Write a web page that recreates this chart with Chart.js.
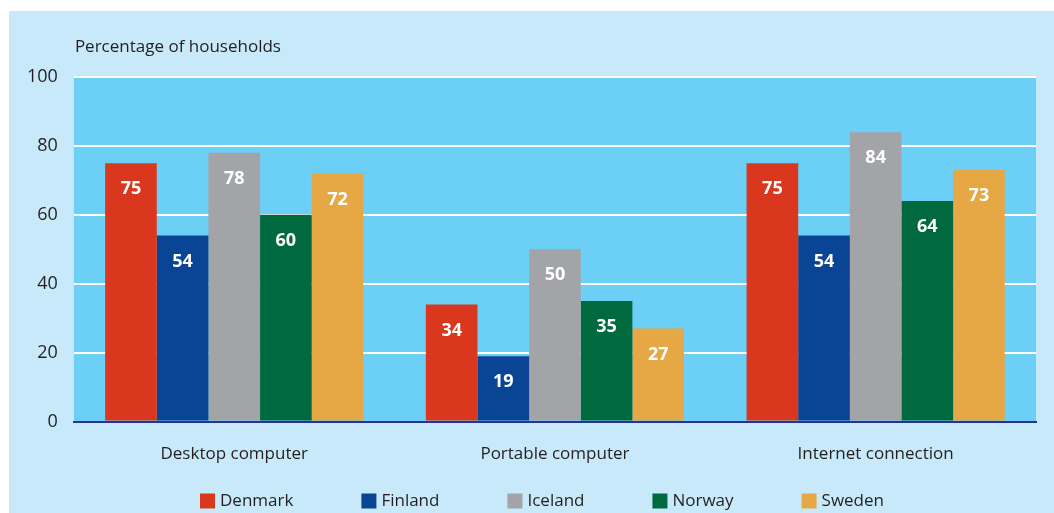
<!DOCTYPE html>
<html>
<head>
<meta charset="utf-8">
<script src="https://cdn.jsdelivr.net/npm/chart.js@4/dist/chart.umd.min.js"></script>
<style>
    html, body { margin: 0; padding: 0; background: #fff; }
    #panel { position: absolute; left: 9px; top: 11px; width: 1045px; height: 502px; background: #c7e9f9; }
</style>
</head>
<body>
<div id="panel"><canvas id="chart" width="1045" height="502"></canvas></div>
<script>
const categories = ['Desktop computer', 'Portable computer', 'Internet connection'];
const countries = ['Denmark', 'Finland', 'Iceland', 'Norway', 'Sweden'];
const denmark = [75, 34, 75];
const finland = [54, 19, 54];
const iceland = [78, 50, 84];
const norway = [60, 35, 64];
const sweden = [72, 27, 73];
const yTicks = [0, 20, 40, 60, 80, 100];

const colors = ['#d9381e', '#0a4595', '#a3a4a8', '#006a3e', '#e5a845'];
const seriesValues = [denmark, finland, iceland, norway, sweden];
const FONT = "'Open Sans', sans-serif";
const TEXT = '#231f20';

const plotBackground = {
    id: 'plotBackground',
    beforeDraw(chart) {
        const { ctx, chartArea } = chart;
        ctx.save();
        ctx.fillStyle = '#6bcff6';
        ctx.fillRect(chartArea.left, chartArea.top, chartArea.right - chartArea.left, chartArea.bottom - chartArea.top);
        ctx.restore();
    },
};

const axisTitle = {
    id: 'axisTitle',
    afterDraw(chart) {
        const { ctx, chartArea } = chart;
        ctx.save();
        ctx.fillStyle = TEXT;
        ctx.font = `17px ${FONT}`;
        ctx.textAlign = 'left';
        ctx.textBaseline = 'middle';
        ctx.fillText('Percentage of households', chartArea.left + 1, chartArea.top - 30);
        ctx.restore();
    },
};

const barLabels = {
    id: 'barLabels',
    afterDatasetsDraw(chart) {
        const { ctx } = chart;
        ctx.save();
        ctx.fillStyle = '#fff';
        ctx.font = `bold 18px ${FONT}`;
        ctx.textAlign = 'center';
        ctx.textBaseline = 'middle';
        chart.data.datasets.forEach((ds, i) => {
            chart.getDatasetMeta(i).data.forEach((bar, j) => {
                ctx.fillText(String(ds.data[j]), bar.x, bar.y + 26);
            });
        });
        ctx.restore();
    },
};

// Legend row along the bottom of the panel.
const bottomLegend = {
    id: 'bottomLegend',
    afterDraw(chart) {
        const { ctx } = chart;
        const box = 15, gapText = 5, gapItem = 68, y = 490;
        ctx.save();
        ctx.font = `17px ${FONT}`;
        const widths = countries.map((c) => ctx.measureText(c).width);
        const total = widths.reduce((a, w) => a + box + gapText + w, 0) + gapItem * (countries.length - 1);
        let x = 533 - total / 2;
        ctx.textAlign = 'left';
        ctx.textBaseline = 'middle';
        countries.forEach((c, i) => {
            ctx.fillStyle = colors[i];
            ctx.fillRect(x, y - box / 2, box, box);
            ctx.fillStyle = TEXT;
            ctx.fillText(c, x + box + gapText, y);
            x += box + gapText + widths[i] + gapItem;
        });
        ctx.restore();
    },
};

new Chart(document.getElementById('chart'), {
    type: 'bar',
    data: {
        labels: categories,
        datasets: countries.map((name, i) => ({
            label: name,
            data: seriesValues[i],
            backgroundColor: colors[i],
            borderWidth: 0,
            barPercentage: 1.0,
            categoryPercentage: 0.805,
        })),
    },
    options: {
        responsive: false,
        animation: false,
        layout: { padding: { left: 2, right: 18, top: 66, bottom: 35 } },
        scales: {
            x: {
                grid: { display: false },
                border: { display: true, color: '#2e3192', width: 2 },
                ticks: { color: TEXT, font: { family: FONT, size: 17 }, padding: 14 },
            },
            y: {
                min: 0,
                max: 100,
                afterBuildTicks(axis) { axis.ticks = yTicks.map((v) => ({ value: v })); },
                grid: { color: '#ffffff', lineWidth: 2, drawTicks: false },
                border: { display: false },
                ticks: { color: TEXT, font: { family: FONT, size: 18 }, padding: 16 },
            },
        },
        plugins: {
            legend: { display: false },
            tooltip: { enabled: false },
        },
    },
    plugins: [plotBackground, axisTitle, barLabels, bottomLegend],
});
</script>
</body>
</html>
